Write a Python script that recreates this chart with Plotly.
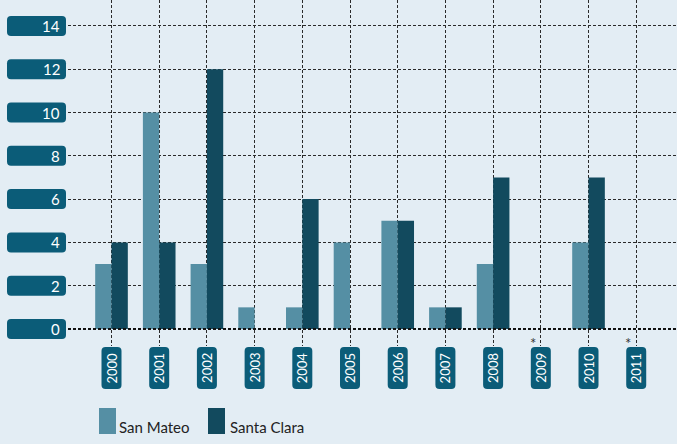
import plotly.graph_objects as go

# ---- data ----
years = ["2000", "2001", "2002", "2003", "2004", "2005", "2006", "2007", "2008", "2009", "2010", "2011"]
san_mateo = [3, 10, 3, 1, 1, 4, 5, 1, 3, None, 4, None]
santa_clara = [4, 4, 12, 0, 6, 0, 5, 1, 7, None, 7, None]
notes = ["", "", "", "", "", "", "", "", "", "*", "", "*"]
y_ticks = [0, 2, 4, 6, 8, 10, 12, 14]

# ---- style ----
BG = "#e3edf4"
C_SM = "#558fa4"
C_SC = "#124a5e"
C_BOX = "#0b5c78"
GRID = "#2a2a2a"
FONT = "Lato"

W, H = 677, 444
ML, MR, MT, MB = 68, 0, 0, 98
PW, PH = W - ML - MR, H - MT - MB


def rrect(x0, y0, x1, y1, r):
    return (f"M{x0+r},{y0} L{x1-r},{y0} Q{x1},{y0} {x1},{y0+r} "
            f"L{x1},{y1-r} Q{x1},{y1} {x1-r},{y1} L{x0+r},{y1} "
            f"Q{x0},{y1} {x0},{y1-r} L{x0},{y0+r} Q{x0},{y0} {x0+r},{y0} Z")


def px_x(px):
    return (px - ML) / PW


def px_y(py):
    return (H - MB - py) / PH


fig = go.Figure()
fig.add_trace(go.Bar(x=years, y=san_mateo, name="San Mateo", marker=dict(color=C_SM, line=dict(width=0))))
fig.add_trace(go.Bar(x=years, y=santa_clara, name="Santa Clara", marker=dict(color=C_SC, line=dict(width=0))))

shapes = []
annotations = []

# y tick label boxes + text
for v in y_ticks:
    shapes.append(dict(type="path", xref="paper", yref="y", xsizemode="pixel", ysizemode="pixel",
                       xanchor=0, yanchor=v, path=rrect(-61, -10, -2, 10, 4),
                       fillcolor=C_BOX, line=dict(width=0), layer="below"))
    annotations.append(dict(x=0, y=v, xref="paper", yref="y", xanchor="right", yanchor="middle",
                            xshift=-6, text=str(v), showarrow=False,
                            font=dict(family=FONT, size=15, color="white")))

# x tick label boxes + text + notes (positioned by category index)
for i, (yr, nt) in enumerate(zip(years, notes)):
    shapes.append(dict(type="path", xref="x", yref="paper", xsizemode="pixel", ysizemode="pixel",
                       xanchor=i, yanchor=0, path=rrect(-10, -43, 10, -1, 4),
                       fillcolor=C_BOX, line=dict(width=0), layer="below"))
    annotations.append(dict(x=i, y=0, xref="x", yref="paper", xanchor="center", yanchor="middle",
                            yshift=-22, textangle=-90, text=yr, showarrow=False,
                            font=dict(family=FONT, size=13, color="white")))
    if nt:
        annotations.append(dict(x=i, y=0, xref="x", yref="paper", xanchor="center", yanchor="middle",
                                xshift=-8, yshift=3, text=nt, showarrow=False,
                                font=dict(family=FONT, size=15, color="#333333")))

# zero line (dotted, heavier)
shapes.append(dict(type="line", xref="paper", yref="y", x0=0, x1=1, y0=0, y1=0,
                   line=dict(color="#111111", width=2, dash="3px,2px"), layer="above"))

# custom legend
for name, col, lx, tx in [("San Mateo", C_SM, 99, 117), ("Santa Clara", C_SC, 208, 228)]:
    shapes.append(dict(type="rect", xref="paper", yref="paper",
                       x0=px_x(lx), x1=px_x(lx + 17), y0=px_y(408), y1=px_y(434),
                       fillcolor=col, line=dict(width=0)))
    annotations.append(dict(x=px_x(tx), y=px_y(438), xref="paper", yref="paper",
                            xanchor="left", yanchor="bottom", text=name, showarrow=False,
                            font=dict(family=FONT, size=15, color="#222222")))

fig.update_layout(
    width=W, height=H,
    margin=dict(l=ML, r=MR, t=MT, b=MB, pad=0),
    paper_bgcolor=BG, plot_bgcolor=BG,
    barmode="group", bargap=0.316, bargroupgap=0,
    showlegend=False,
    shapes=shapes, annotations=annotations,
    font=dict(family=FONT),
)
fig.update_xaxes(type="category", range=[-0.912, 11.855], showticklabels=False, ticks="",
                 showgrid=True, gridcolor=GRID, gridwidth=1, griddash="3px,2px",
                 zeroline=False, showline=False)
fig.update_yaxes(range=[-0.786, 15.2], tickvals=y_ticks, showticklabels=False, ticks="",
                 showgrid=True, gridcolor=GRID, gridwidth=1, griddash="3px,2px",
                 zeroline=False, showline=False)

fig.write_html("out.html", config={"displayModeBar": False},
               post_script="document.body.style.margin='0';document.body.style.background='" + BG + "';")
